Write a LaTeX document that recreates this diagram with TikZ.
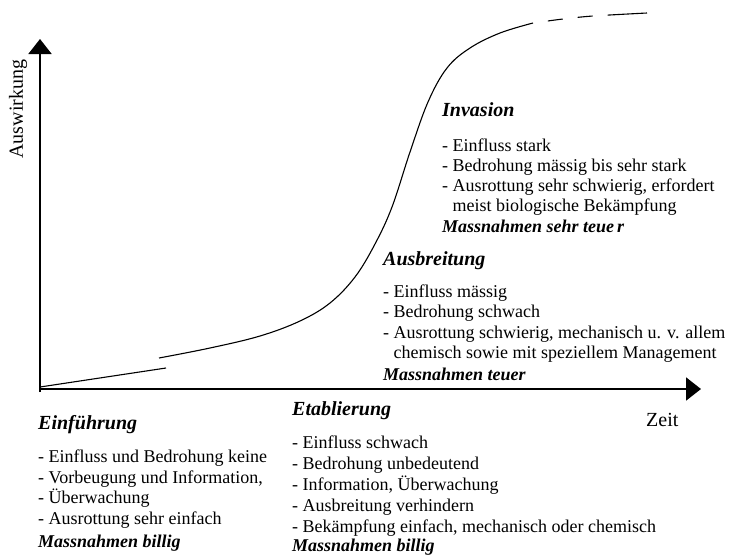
\documentclass[tikz,border=0pt]{standalone}
\usepackage{fontspec}
\setmainfont{Liberation Serif}
\usetikzlibrary{arrows.meta}
\begin{document}
\begin{tikzpicture}[x=1pt,y=-1pt,
  axis/.style={line width=2pt,-{Triangle[length=15pt,width=23pt]}},
  curve/.style={line width=1.1pt},
  head/.style={font=\fontsize{20}{22}\selectfont\bfseries\itshape,anchor=base west,inner sep=0pt},
  item/.style={font=\fontsize{18}{20}\selectfont,anchor=base west,inner sep=0pt},
  cost/.style={font=\fontsize{18}{20}\selectfont\bfseries\itshape,anchor=base west,inner sep=0pt},
  lab/.style={font=\fontsize{20}{22}\selectfont,inner sep=0pt}]
\useasboundingbox (0,0) rectangle (729,555);
% axes
\coordinate (O) at (40,389);
\coordinate (ytip) at (40,39);
\coordinate (xtip) at (701,389);
\draw[axis] (40,392) -- (ytip);
\draw[axis] (39,389) -- (xtip);
\node[lab,rotate=90] (yl) at (18,109) {Auswirkung};
\node[lab,anchor=base west] (xl) at (646,426) {Zeit};
% curve
\coordinate (c0) at (40,387);
\coordinate (c1) at (166,368);
\draw[curve] (c0) -- (c1);
\coordinate (s0) at (159,358);
\coordinate (s1) at (533,23);
\draw[curve] plot[smooth,tension=0.6] coordinates {(s0) (210,348) (260,336) (300,321) (330,303) (355,277) (375,244) (392,207) (410,152) (428,102) (447,68) (470,48) (500,33) (s1)};
\coordinate (e1) at (647,13);
\draw[curve,dash pattern=on 0pt off 15pt on 15pt off 15pt on 15pt off 15pt on 60pt]
  plot[smooth,tension=0.5] coordinates {(s1) (563,19) (593,16) (e1)};
% Invasion
\node[head] (invh) at (442,116) {Invasion};
\node[item] (inv1) at (442,151) {- Einfluss stark};
\node[item] (inv2) at (442,171) {- Bedrohung mässig bis sehr stark};
\node[item] (inv3) at (442,191) {- Ausrottung sehr schwierig, erfordert};
\node[item] (inv4) at (442,211) {\hphantom{- }meist biologische Bekämpfung};
\node[cost] (invc) at (442,232) {Massnahmen sehr teue\,r};
% Ausbreitung
\node[head] (ausbh) at (383,265) {Ausbreitung};
\node[item] (ausb1) at (383,297) {- Einfluss mässig};
\node[item] (ausb2) at (383,317) {- Bedrohung schwach};
\node[item] (ausb3) at (383,338) {- Ausrottung schwierig, mechanisch u. v. allem};
\node[item] (ausb4) at (383,358) {\hphantom{- }chemisch sowie mit speziellem Management};
\node[cost] (ausbc) at (383,380) {Massnahmen teuer};
% Einfuehrung
\node[head] (einh) at (38,429) {Einführung};
\node[item] (ein1) at (38,462) {- Einfluss und Bedrohung keine};
\node[item] (ein2) at (38,483) {- Vorbeugung und Information,};
\node[item] (ein3) at (38,503) {- Überwachung};
\node[item] (ein4) at (38,524) {- Ausrottung sehr einfach};
\node[cost] (einc) at (38,547) {Massnahmen billig};
% Etablierung
\node[head] (etah) at (292,415) {Etablierung};
\node[item] (eta1) at (292,448) {- Einfluss schwach};
\node[item] (eta2) at (292,469) {- Bedrohung unbedeutend};
\node[item] (eta3) at (292,490) {- Information, Überwachung};
\node[item] (eta4) at (292,511) {- Ausbreitung verhindern};
\node[item] (eta5) at (292,532) {- Bekämpfung einfach, mechanisch oder chemisch};
\node[cost] (etac) at (292,551) {Massnahmen billig};
\end{tikzpicture}
\end{document}
